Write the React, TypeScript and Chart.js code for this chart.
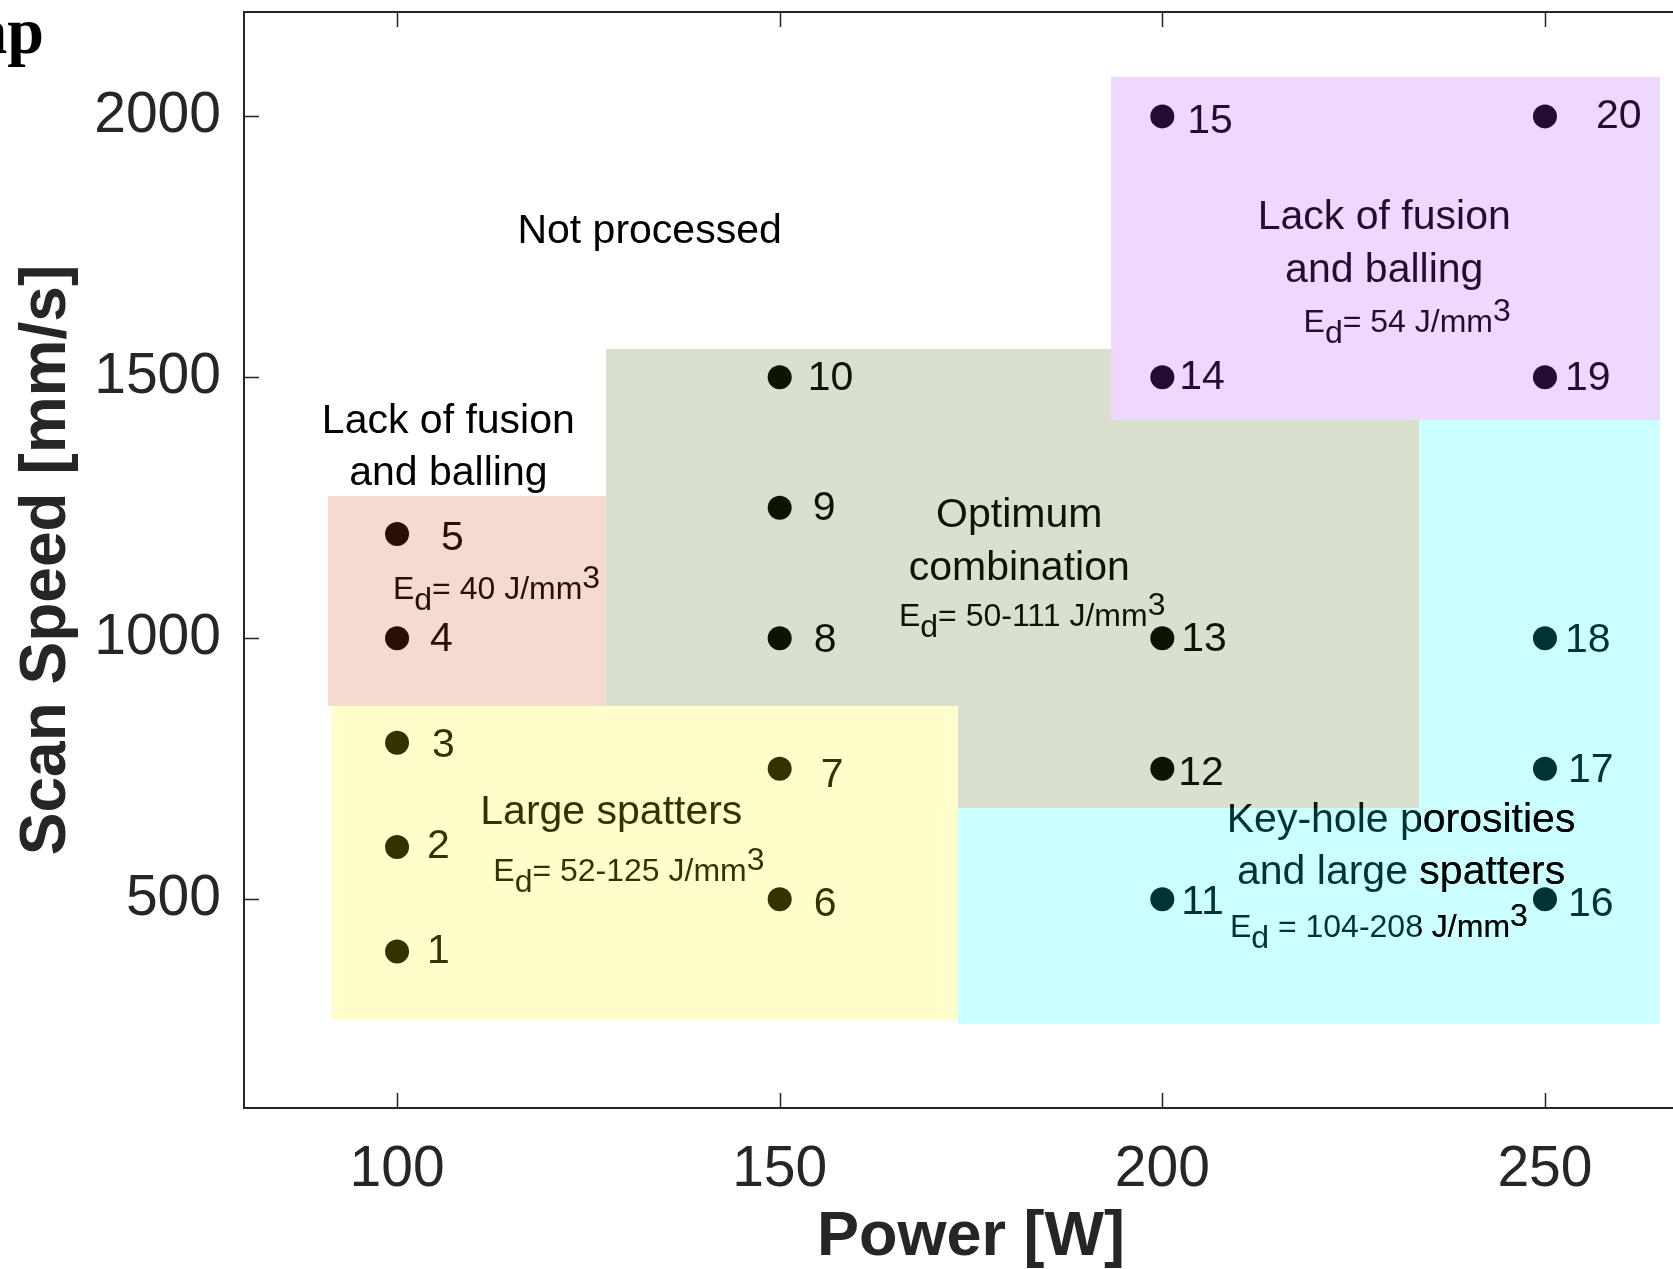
import React, { useEffect, useRef } from 'react';
import { Chart, registerables } from 'chart.js';

Chart.register(...registerables);

// ---- data ----
const SAMPLE_IDS = ['1', '2', '3', '4', '5', '6', '7', '8', '9', '10', '11', '12', '13', '14', '15', '16', '17', '18', '19', '20'];
const POWER = [100, 100, 100, 100, 100, 150, 150, 150, 150, 150, 200, 200, 200, 200, 200, 250, 250, 250, 250, 250];
const SPEED = [400, 600, 800, 1000, 1200, 500, 750, 1000, 1250, 1500, 500, 750, 1000, 1500, 2000, 500, 750, 1000, 1500, 2000];

const X_TICKS = [100, 150, 200, 250];
const Y_TICKS = [500, 1000, 1500, 2000];

// process-window regions (polygon vertices in data units)
const REGION_NAMES = ['Lack of fusion (low power)', 'Large spatters', 'Optimum combination', 'Key-hole porosities', 'Lack of fusion (high speed)'];
const REGION_POWER = [
  [91.0, 127.3, 127.3, 91.0],
  [91.4, 173.3, 173.3, 91.4],
  [127.3, 193.3, 193.3, 233.6, 233.6, 173.3, 173.3, 127.3],
  [233.6, 265.0, 265.0, 173.3, 173.3, 233.6],
  [193.3, 265.0, 265.0, 193.3],
];
const REGION_SPEED = [
  [1272, 1272, 870, 870],
  [870, 870, 268, 268],
  [1554, 1554, 1418, 1418, 675, 675, 870, 870],
  [1418, 1418, 260, 260, 675, 675],
  [2075, 2075, 1418, 1418],
];
const REGION_FILL = [
  'rgba(205,72,20,0.2)',
  'rgba(255,255,0,0.2)',
  'rgba(70,100,20,0.2)',
  'rgba(0,255,255,0.2)',
  'rgba(170,60,245,0.2)',
];

// annotation text
const ANNOT_TEXT = ['Not processed', 'Lack of fusion', 'and balling', 'Optimum', 'combination', 'Large spatters', 'Key-hole porosities', 'and large spatters', 'Lack of fusion', 'and balling'];
const ANNOT_POWER = [133.0, 106.7, 106.7, 181.3, 181.3, 128.0, 231.2, 231.2, 229.0, 229.0];
const ANNOT_SPEED = [1780, 1415, 1315, 1234, 1134, 665, 651, 551, 1806, 1704];

const ED_RANGES = ['40', '50-111', '52-125', '104-208', '54'];
const ED_EQ = ['= ', '= ', '= ', ' = ', '= '];
const ED_POWER = [113.0, 183.0, 130.3, 228.3, 232.0];
const ED_SPEED = [1093, 1040, 551, 445, 1603];

// label offsets (px) for sample numbers
const LABEL_DX = [30, 30, 35, 33, 44, 34, 41, 34, 33, 28, 19, 16, 19, 17, 25, 23, 23, 20, 20, 51];
const LABEL_DY = [0, 0, 3, 1, 5, 5, 7, 2, 1, 1, 3, 5, 1, 0, 5, 5, 2, 2, 1, 0];

const SANS = '"Liberation Sans", Arial, Helvetica, sans-serif';
const AXIS_COLOR = '#262626';

function drawEd(ctx: CanvasRenderingContext2D, cx: number, cy: number, eq: string, range: string) {
  const size = 32;
  ctx.font = `${size}px ${SANS}`;
  ctx.textBaseline = 'middle';
  ctx.textAlign = 'left';
  const main = `${eq}${range} J/mm`;
  const wE = ctx.measureText('E').width;
  const wd = ctx.measureText('d').width;
  const wm = ctx.measureText(main).width;
  const w3 = ctx.measureText('3').width;
  const total = wE + wd + wm + w3;
  let x0 = cx - total / 2;
  ctx.fillText('E', x0, cy);
  x0 += wE;
  ctx.fillText('d', x0, cy + 11);
  x0 += wd;
  ctx.fillText(main, x0, cy);
  x0 += wm;
  ctx.fillText('3', x0, cy - 11);
}

const overlayPlugin = {
  id: 'processMapOverlay',
  afterDatasetsDraw(chart: any) {
    const { ctx } = chart;
    const xs = chart.scales.x;
    const ys = chart.scales.y;
    const px = (v: number) => xs.getPixelForValue(v);
    const py = (v: number) => ys.getPixelForValue(v);

    const drawTexts = (indices: number[] | null, edIdx: number[] | null) => {
      ctx.fillStyle = '#000';
      ANNOT_TEXT.forEach((t, i) => {
        if (indices && !indices.includes(i)) return;
        ctx.font = `41px ${SANS}`;
        ctx.textAlign = 'center';
        ctx.textBaseline = 'middle';
        ctx.fillText(t, px(ANNOT_POWER[i]), py(ANNOT_SPEED[i]));
      });
      ED_RANGES.forEach((r, i) => {
        if (edIdx && !edIdx.includes(i)) return;
        drawEd(ctx, px(ED_POWER[i]), py(ED_SPEED[i]), ED_EQ[i], r);
      });
    };

    ctx.save();
    // sample numbers
    ctx.fillStyle = '#000';
    ctx.font = `41px ${SANS}`;
    ctx.textAlign = 'left';
    ctx.textBaseline = 'middle';
    POWER.forEach((p, i) => {
      ctx.fillText(SAMPLE_IDS[i], px(p) + LABEL_DX[i], py(SPEED[i]) + LABEL_DY[i]);
    });
    drawTexts(null, null);

    // translucent regions drawn over marks and text
    REGION_POWER.forEach((vx, r) => {
      ctx.beginPath();
      vx.forEach((v, k) => {
        const X = Math.round(px(v));
        const Y = Math.round(py(REGION_SPEED[r][k]));
        if (k === 0) ctx.moveTo(X, Y);
        else ctx.lineTo(X, Y);
      });
      ctx.closePath();
      ctx.fillStyle = REGION_FILL[r];
      ctx.fill();
    });

    // key-hole text right of the optimum patch edge stays black
    ctx.save();
    const edge = Math.round(px(REGION_POWER[2][3]));
    ctx.beginPath();
    ctx.rect(edge, 0, chart.width - edge, chart.height);
    ctx.clip();
    drawTexts([6, 7], [3]);
    ctx.restore();
    ctx.restore();
  },
  afterDraw(chart: any) {
    const { ctx, chartArea } = chart;
    const xs = chart.scales.x;
    const ys = chart.scales.y;
    const { left, right, top, bottom } = chartArea;
    ctx.save();
    ctx.strokeStyle = AXIS_COLOR;
    ctx.lineWidth = 2;
    ctx.beginPath();
    ctx.rect(left, top, right - left, bottom - top);
    ctx.stroke();
    ctx.lineWidth = 1.5;
    const tl = 15;
    ctx.beginPath();
    X_TICKS.forEach((v) => {
      const X = Math.round(xs.getPixelForValue(v)) + 0.5;
      ctx.moveTo(X, bottom);
      ctx.lineTo(X, bottom - tl);
      ctx.moveTo(X, top);
      ctx.lineTo(X, top + tl);
    });
    Y_TICKS.forEach((v) => {
      const Y = Math.round(ys.getPixelForValue(v)) + 0.5;
      ctx.moveTo(left, Y);
      ctx.lineTo(left + tl, Y);
      ctx.moveTo(right, Y);
      ctx.lineTo(right - tl, Y);
    });
    ctx.stroke();

    // cropped panel title fragment
    ctx.fillStyle = '#000';
    ctx.font = 'bold 66px "Liberation Serif", "Times New Roman", serif';
    ctx.textAlign = 'right';
    ctx.textBaseline = 'alphabetic';
    ctx.fillText('map', 44, 53);
    ctx.restore();
  },
};

export default function App() {
  const canvasRef = useRef<HTMLCanvasElement | null>(null);

  useEffect(() => {
    const canvas = canvasRef.current;
    if (!canvas) return;
    const chart = new Chart(canvas, {
      type: 'scatter',
      data: {
        datasets: [
          {
            label: 'Samples',
            data: POWER.map((p, i) => ({ x: p, y: SPEED[i] })),
            backgroundColor: '#000',
            borderColor: '#000',
            borderWidth: 0,
            pointRadius: 12,
            pointHoverRadius: 12,
          },
        ],
      },
      options: {
        animation: false,
        responsive: false,
        devicePixelRatio: 1,
        events: [],
        layout: { padding: { left: 15, top: 10, right: 22, bottom: 0 } },
        plugins: {
          legend: { display: false },
          tooltip: { enabled: false },
        },
        scales: {
          x: {
            type: 'linear',
            min: 80,
            max: 270,
            grid: { display: false, drawTicks: false },
            border: { display: false },
            afterBuildTicks: (scale: any) => {
              scale.ticks = X_TICKS.map((v) => ({ value: v }));
            },
            afterFit: (scale: any) => {
              scale.height = 161;
              scale.paddingLeft = 0;
              scale.paddingRight = 0;
              scale.paddingTop = 0;
              scale.paddingBottom = 0;
            },
            ticks: {
              color: AXIS_COLOR,
              padding: 28,
              maxRotation: 0,
              font: { family: SANS, size: 57, lineHeight: 1.2 },
              callback: (v: any) => String(v),
            },
            title: {
              display: true,
              text: 'Power [W]',
              color: AXIS_COLOR,
              padding: { top: 0, bottom: 0 },
              font: { family: SANS, size: 63, weight: 'bold', lineHeight: 1.0 },
            },
          },
          y: {
            type: 'linear',
            min: 100,
            max: 2200,
            grid: { display: false, drawTicks: false },
            border: { display: false },
            afterBuildTicks: (scale: any) => {
              scale.ticks = Y_TICKS.map((v) => ({ value: v }));
            },
            afterFit: (scale: any) => {
              scale.width = 229;
              scale.paddingLeft = 0;
              scale.paddingRight = 0;
              scale.paddingTop = 0;
              scale.paddingBottom = 0;
            },
            ticks: {
              color: AXIS_COLOR,
              padding: 23,
              font: { family: SANS, size: 57, lineHeight: 1.2 },
              callback: (v: any) => String(v),
            },
            title: {
              display: true,
              text: 'Scan Speed [mm/s]',
              color: AXIS_COLOR,
              padding: { top: 0, bottom: 0 },
              font: { family: SANS, size: 64, weight: 'bold', lineHeight: 1.0 },
            },
          },
        },
      },
      plugins: [overlayPlugin],
    } as any);
    return () => chart.destroy();
  }, []);

  return (
    <div
      style={{
        position: 'absolute',
        left: 0,
        top: 0,
        width: 1673,
        height: 1269,
        overflow: 'hidden',
        background: '#fff',
      }}
    >
      <canvas
        ref={canvasRef}
        width={1720}
        height={1269}
        style={{ display: 'block', width: 1720, height: 1269 }}
        aria-label={REGION_NAMES.join(', ')}
      />
    </div>
  );
}
